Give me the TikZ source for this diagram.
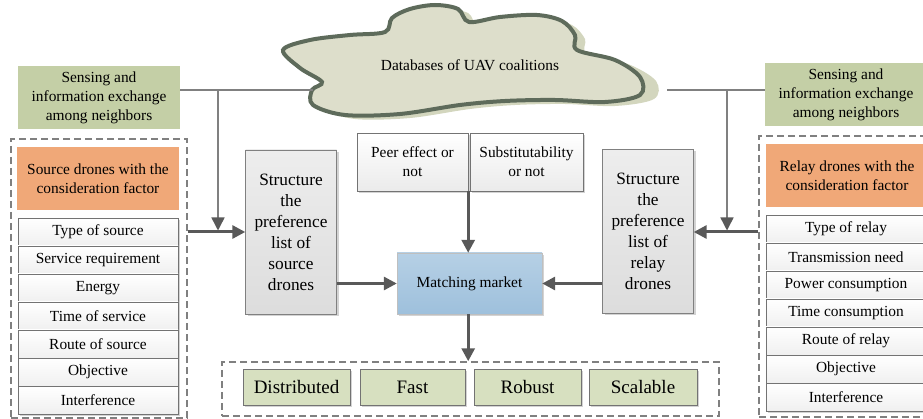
\documentclass[tikz,border=0pt]{standalone}
\usepackage{fontspec}
\setmainfont{Liberation Serif}
\usepackage{tikz}
\usetikzlibrary{arrows.meta}
\usetikzlibrary{shadows}

\definecolor{sensegreen}{HTML}{C4CFA6}
\definecolor{factororange}{HTML}{F0A878}
\definecolor{cloudfill}{HTML}{DDDECB}
\definecolor{cloudshade}{HTML}{D3D6BE}
\definecolor{cloudline}{HTML}{5E6B5B}
\definecolor{arrowgray}{HTML}{595959}
\definecolor{propgreen}{HTML}{D7E0C0}
\definecolor{markettop}{HTML}{B6D0E5}
\definecolor{marketbot}{HTML}{9EC0DC}

\begin{document}
\begin{tikzpicture}[x=1pt,y=-1pt,
  txt/.style={font=\fontsize{15.4}{19}\selectfont,align=center,inner sep=1pt},
  boxshadow/.style={drop shadow={shadow xshift=2pt,shadow yshift=-2pt,opacity=.35,fill=gray}},
  sensebox/.style={txt,fill=sensegreen,minimum width=162pt,minimum height=63pt},
  factorbox/.style={txt,fill=factororange,minimum width=162pt,minimum height=63pt},
  itembox/.style={txt,draw=gray!90!black,top color=white,bottom color=gray!12,minimum width=160pt,minimum height=28pt,boxshadow},
  structbox/.style={txt,font=\fontsize{17.3}{21}\selectfont,draw=gray,top color=gray!14,bottom color=gray!27,minimum width=91pt,minimum height=164pt,boxshadow},
  condbox/.style={txt,draw=gray!90!black,top color=white,bottom color=gray!16,minimum height=58pt,boxshadow},
  marketbox/.style={txt,draw=gray!50,top color=markettop,bottom color=marketbot,minimum width=145pt,minimum height=61pt,boxshadow},
  propbox/.style={txt,font=\fontsize{19}{22}\selectfont,draw=gray!90!black,fill=propgreen,minimum height=36pt,boxshadow},
  dashbox/.style={draw=gray,line width=1.5pt,dash pattern=on 7pt off 4pt},
  wire/.style={draw=gray,line width=1.5pt},
  arr/.style={draw=arrowgray,line width=3pt,-{Triangle[length=13pt,width=13pt]}},
  wirearr/.style={draw=gray,line width=1.5pt,-{Triangle[length=13pt,width=13pt,color=arrowgray]}}]
\useasboundingbox (0,0) rectangle (923,419);
\clip (0,0) rectangle (923,419);

% cloud
\fill[cloudshade] plot[smooth cycle,tension=0.55] coordinates {(293,54) (320,44) (360,39) (395,36) (402,22) (420,13) (445,9) (468,13) (479,26) (510,21) (547,19) (572,25) (585,39) (587,54) (628,64) (656,81) (654,99) (615,106) (565,104) (515,105) (470,109) (410,118) (355,119) (323,109) (322,94) (332,86) (310,72)};
\draw[cloudline,fill=cloudfill,line width=4pt] plot[smooth cycle,tension=0.55] coordinates {(283,50) (310,40) (350,35) (385,32) (392,18) (410,9) (435,5) (458,9) (469,22) (500,17) (537,15) (562,21) (575,35) (577,50) (615,60) (640,77) (640,95) (605,102) (555,100) (505,101) (460,105) (400,114) (345,115) (313,105) (312,90) (322,82) (300,68)};
\node[txt] (db) at (470,65) {Databases of UAV coalitions};
\coordinate (cl) at (313,90);
\coordinate (cr) at (667,90);
\coordinate (lj) at (218,90);
\coordinate (rj) at (727,90);

% left side
\node[sensebox] (lsense) at (99,97.5) {Sensing and\\information exchange\\among neighbors};
\node[dashbox,minimum width=176pt,minimum height=279pt] (ldash) at (99,278.5) {};
\node[factorbox] (lsrc) at (98,178.5) {Source drones with the\\consideration factor};
\node[itembox] (l1) at (98,232) {Type of source};
\node[itembox] (l2) at (98,260) {Service requirement};
\node[itembox] (l3) at (98,288) {Energy};
\node[itembox] (l4) at (98,316) {Time of service};
\node[itembox] (l5) at (98,344) {Route of source};
\node[itembox] (l6) at (98,372) {Objective};
\node[itembox] (l7) at (98,400) {Interference};

% right side
\node[sensebox] (rsense) at (846,95) {Sensing and\\information exchange\\among neighbors};
\node[dashbox,minimum width=180pt,minimum height=281pt] (rdash) at (849,276.5) {};
\node[factorbox] (rsrc) at (847,176) {Relay drones with the\\consideration factor};
\node[itembox] (r1) at (846,229) {Type of relay};
\node[itembox] (r2) at (846,257) {Transmission need};
\node[itembox] (r3) at (846,285) {Power consumption};
\node[itembox] (r4) at (846,313) {Time consumption};
\node[itembox] (r5) at (846,341) {Route of relay};
\node[itembox] (r6) at (846,369) {Objective};
\node[itembox] (r7) at (846,397) {Interference};

% middle
\node[structbox] (lstruct) at (291,232) {Structure\\the\\preference\\list of\\source\\drones};
\node[structbox] (rstruct) at (648,231.5) {Structure\\the\\preference\\list of\\relay\\drones};
\node[condbox,minimum width=111pt] (peer) at (412.5,162) {Peer effect or\\not};
\node[condbox,minimum width=113pt] (subst) at (526.5,162) {Substitutability\\or not};
\node[marketbox] (market) at (469.5,283.5) {Matching market};

% properties
\node[dashbox,minimum width=497pt,minimum height=54pt] (props) at (470.5,389) {};
\node[propbox,minimum width=107pt] (p1) at (296.5,387) {Distributed};
\node[propbox,minimum width=105pt] (p2) at (412.5,387) {Fast};
\node[propbox,minimum width=107pt] (p3) at (527.5,387) {Robust};
\node[propbox,minimum width=108pt] (p4) at (643,387) {Scalable};

% connectors
\draw[wire] (lsense.east |- lj) -- (cl);
\draw[wire] (cr) -- (rsense.west |- rj);
\draw[wirearr] (lj) -- ([yshift=1.5pt]lj |- l1);
\draw[wirearr] (rj) -- ([yshift=1.5pt]rj |- l1);
\draw[arr] (ldash.east |- l1) -- (lstruct.west |- l1);
\draw[arr] (rdash.west |- l1) -- (rstruct.east |- l1);
\draw[arr] (lstruct.east |- market) -- (market.west);
\draw[arr] (rstruct.west |- market) -- (market.east);
\draw[arr] (peer.south east) -- (peer.south east |- market.north);
\draw[arr] (market.south -| peer.south east) -- (peer.south east |- props.north);
\end{tikzpicture}
\end{document}
